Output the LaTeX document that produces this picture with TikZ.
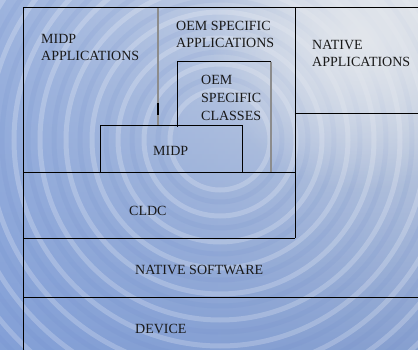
\documentclass[tikz,border=0pt]{standalone}
\usepackage{fontspec}
\setmainfont{Liberation Serif}
\usetikzlibrary{fadings}
\definecolor{bgtop}{RGB}{220,225,232}
\definecolor{bgbot}{RGB}{135,160,208}
\definecolor{bgleft}{RGB}{130,160,218}
\definecolor{ripdark}{RGB}{105,135,200}
\definecolor{bgpale}{RGB}{226,230,236}
\tikzfading[name=softspot, inner color=transparent!0, outer color=transparent!100]
\tikzfading[name=leftfade, left color=transparent!30, right color=transparent!100]
\begin{document}
\begin{tikzpicture}[x=1pt,y=-1pt,
  lbl/.style={anchor=base west,inner sep=0pt,font=\fontsize{14}{17}\selectfont,text=black!90},
  edge/.style={draw=black,line width=1pt},
  greyedge/.style={draw=black!45,line width=1.3pt}]
\useasboundingbox (0,0) rectangle (418,350);
% background
\shade[top color=bgtop,bottom color=bgbot] (0,0) rectangle (418,350);
\fill[bgleft,path fading=leftfade] (0,0) rectangle (418,350);
\begin{scope}
\clip (0,0) rectangle (418,350);
\foreach \r in {50,76,...,340} {
  \draw[white,opacity=0.22,line width=5pt] (220,140) circle[radius=\r];
  \draw[ripdark,opacity=0.12,line width=5pt] (220,140) circle[radius=\r+12];
}
\fill[bgpale,path fading=softspot] (360,40) circle[radius=150];
\end{scope}
% lines
\draw[edge] (23,8) -- (23,350);
\draw[edge] (23,8) -- (418,8);
\draw[greyedge] (158,8) -- (158,126);
\draw[draw=black,line width=2.2pt] (158,103) -- (158,115);
\draw[edge] (295,8) -- (295,238);
\draw[edge] (295,114) -- (418,114);
\draw[edge] (177,127) -- (177,62) -- (271,62);
\draw[greyedge] (271,62) -- (271,173);
\draw[edge] (100,173) -- (100,126) -- (242,126) -- (242,173);
\draw[edge] (23,173) -- (295,173);
\draw[edge] (23,238) -- (295,238);
\draw[edge] (23,297) -- (418,297);
% texts
\node[lbl] (midpappA) at (41,44) {MIDP};
\node[lbl] (midpappB) at (41,61) {APPLICATIONS};
\node[lbl] (oemappA) at (176,31) {OEM SPECIFIC};
\node[lbl] (oemappB) at (176,48) {APPLICATIONS};
\node[lbl] (natappA) at (312,50) {NATIVE};
\node[lbl] (natappB) at (312,67) {APPLICATIONS};
\node[lbl] (oemclsA) at (201,85) {OEM};
\node[lbl] (oemclsB) at (201,103) {SPECIFIC};
\node[lbl] (oemclsC) at (201,121) {CLASSES};
\node[lbl] (midp) at (153,156) {MIDP};
\node[lbl] (cldc) at (129,215) {CLDC};
\node[lbl] (natsw) at (135,274) {NATIVE SOFTWARE};
\node[lbl] (device) at (135,333) {DEVICE};
\end{tikzpicture}
\end{document}
